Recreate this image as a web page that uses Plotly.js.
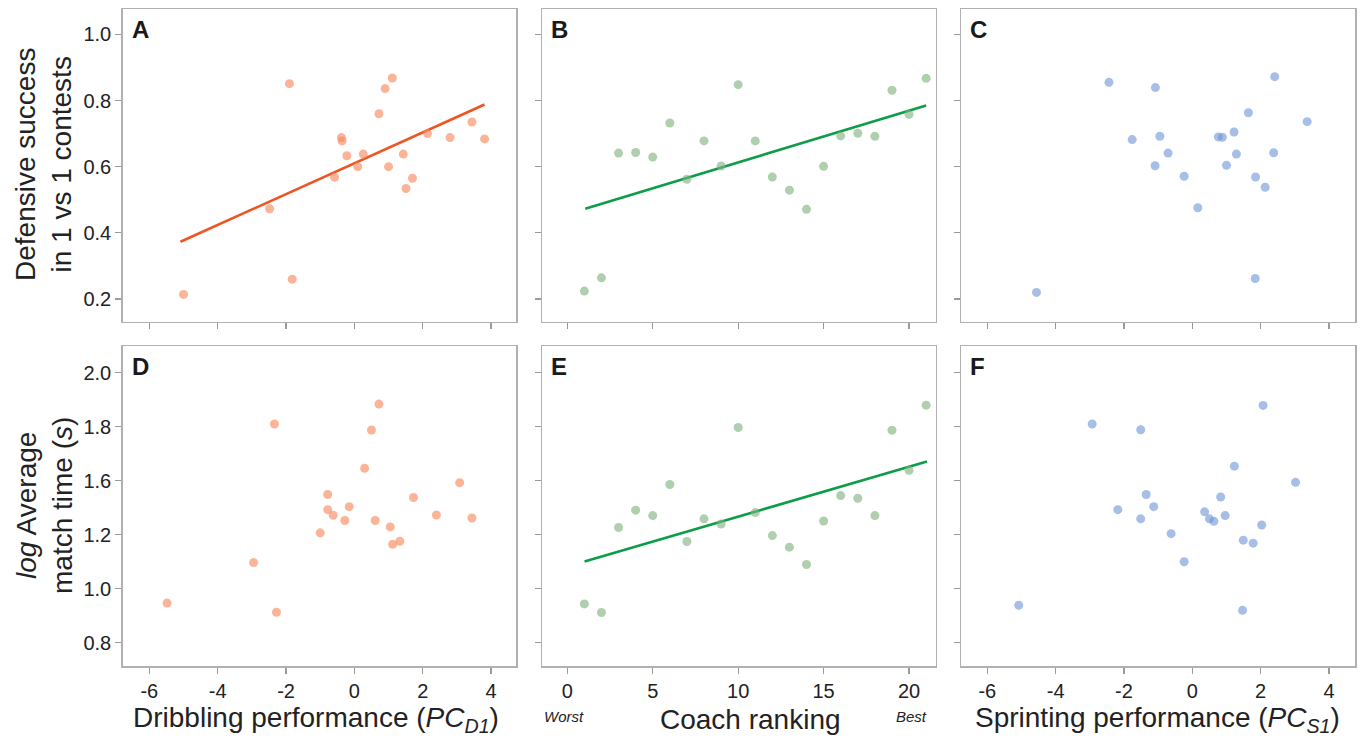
<!DOCTYPE html>
<html>
<head>
<meta charset="utf-8">
<script src="https://cdn.plot.ly/plotly-3.0.1.min.js"></script>
<style>html,body{margin:0;padding:0;background:#fff;}#chart{width:1364px;height:742px;}</style>
</head>
<body>
<div id="chart"></div>
<script>
// ---- Data ----
// Panel A: dribbling performance vs defensive success
const dribA = [-5.00,-2.48,-1.90,-1.82,-0.58,-0.38,-0.36,-0.22,0.10,0.26,0.72,0.90,1.11,1.00,1.43,1.51,1.70,2.14,2.80,3.44,3.81];
const defA  = [0.214,0.473,0.851,0.260,0.568,0.688,0.678,0.633,0.600,0.638,0.760,0.836,0.868,0.600,0.638,0.534,0.565,0.700,0.688,0.735,0.684];
const fitA_x = [-5.09, 3.81];
const fitA_y = [0.373, 0.788];

// Panel B: coach ranking vs defensive success
const rankB = [1,2,3,4,5,6,7,8,9,10,11,12,13,14,15,16,17,18,19,20,21];
const defB  = [0.224,0.264,0.641,0.643,0.629,0.732,0.562,0.678,0.602,0.848,0.678,0.569,0.529,0.471,0.601,0.693,0.701,0.692,0.831,0.758,0.867];
const fitB_x = [1.05, 21.0];
const fitB_y = [0.473, 0.785];

// Panel C: sprinting performance vs defensive success
const sprC = [-4.56,-2.44,-1.76,-1.08,-0.95,-1.09,-0.71,-0.24,0.16,0.76,0.88,1.00,1.22,1.29,1.64,1.85,1.84,2.13,2.38,2.41,3.36];
const defC = [0.220,0.855,0.682,0.839,0.692,0.603,0.641,0.571,0.476,0.690,0.689,0.604,0.705,0.638,0.763,0.569,0.262,0.538,0.642,0.872,0.736];

// Panel D: dribbling performance vs log average match time
const dribD = [-5.48,-2.95,-2.34,-2.28,-1.00,-0.78,-0.78,-0.62,-0.28,-0.15,0.30,0.50,0.72,0.61,1.05,1.12,1.33,1.73,2.40,3.08,3.44];
const timeD = [1.147,1.297,1.810,1.113,1.407,1.549,1.493,1.472,1.453,1.504,1.646,1.788,1.884,1.453,1.429,1.365,1.376,1.538,1.473,1.593,1.462];

// Panel E: coach ranking vs log average match time
const rankE = [1,2,3,4,5,6,7,8,9,10,11,12,13,14,15,16,17,18,19,20,21];
const timeE = [1.144,1.112,1.427,1.491,1.471,1.586,1.375,1.459,1.440,1.797,1.482,1.397,1.354,1.290,1.451,1.545,1.535,1.471,1.787,1.639,1.880];
const fitE_x = [1.01, 21.05];
const fitE_y = [1.301, 1.671];

// Panel F: sprinting performance vs log average match time
const sprF  = [-5.08,-2.93,-2.18,-1.51,-1.51,-1.35,-1.13,-0.62,-0.24,0.36,0.50,0.63,0.83,0.96,1.23,1.49,1.47,1.78,2.03,2.07,3.02];
const timeF = [1.139,1.810,1.493,1.789,1.459,1.549,1.504,1.404,1.300,1.485,1.459,1.450,1.540,1.471,1.654,1.380,1.120,1.369,1.436,1.879,1.594];

// Tick labels
const dribTicks = [-6,-4,-2,0,2,4];
const rankTicks = [0,5,10,15,20];
const defTicks  = [0.2,0.4,0.6,0.8,1.0];
const defTickText = ['0.2','0.4','0.6','0.8','1.0'];
const timeTickVals = [1.0,1.2,1.4,1.6,1.8,2.0];
const timeTickText = ['0.8','1.0','1.2','1.6','1.8','2.0'];

const panelLetters = ['A','B','C','D','E','F'];

// ---- Styles ----
const ORANGE_PT = 'rgba(249,140,96,0.65)';
const GREEN_PT  = 'rgba(128,178,126,0.62)';
const BLUE_PT   = 'rgba(108,146,214,0.6)';
const ORANGE_LN = '#ef5522';
const GREEN_LN  = '#0d9d48';
const FONT = 'Liberation Sans, Arial, Helvetica, sans-serif';

function pts(x, y, color, xa, ya) {
  return {x: x, y: y, type: 'scatter', mode: 'markers', xaxis: xa, yaxis: ya,
          marker: {size: 9, color: color, line: {width: 0}}, hoverinfo: 'x+y', showlegend: false};
}
function fit(x, y, color, xa, ya) {
  return {x: x, y: y, type: 'scatter', mode: 'lines', xaxis: xa, yaxis: ya,
          line: {color: color, width: 2.6}, hoverinfo: 'skip', showlegend: false};
}

const data = [
  fit(fitA_x, fitA_y, ORANGE_LN, 'x', 'y'),
  pts(dribA, defA, ORANGE_PT, 'x', 'y'),
  fit(fitB_x, fitB_y, GREEN_LN, 'x2', 'y2'),
  pts(rankB, defB, GREEN_PT, 'x2', 'y2'),
  pts(sprC, defC, BLUE_PT, 'x3', 'y3'),
  pts(dribD, timeD, ORANGE_PT, 'x4', 'y4'),
  fit(fitE_x, fitE_y, GREEN_LN, 'x5', 'y5'),
  pts(rankE, timeE, GREEN_PT, 'x5', 'y5'),
  pts(sprF, timeF, BLUE_PT, 'x6', 'y6')
];

const W = 1364, H = 742;
const colPx = [[122.7, 516], [542, 935.7], [961.3, 1355]];
const rowPx = [[9, 321.7], [346, 666]];
const xRanges = [[-6.78, 4.73], [-1.48, 21.56], [-6.76, 4.76]];
const yRanges = [[0.1315, 1.0766], [0.914, 2.099]];

function axBase() {
  return {showline: true, mirror: true, linecolor: '#b0b0b0', linewidth: 1.5,
          ticks: 'outside', ticklen: 6, tickwidth: 1.2, tickcolor: '#9a9a9a',
          showgrid: false, zeroline: false, fixedrange: true,
          tickfont: {family: FONT, size: 20, color: '#222'}};
}

const layout = {
  width: W, height: H,
  margin: {l: 0, r: 0, t: 0, b: 0},
  paper_bgcolor: '#ffffff', plot_bgcolor: '#ffffff',
  font: {family: FONT, color: '#222'},
  showlegend: false,
  annotations: []
};

for (let r = 0; r < 2; r++) {
  for (let c = 0; c < 3; c++) {
    const i = r * 3 + c + 1;
    const xk = i === 1 ? 'xaxis' : 'xaxis' + i;
    const yk = i === 1 ? 'yaxis' : 'yaxis' + i;
    const xa = axBase();
    xa.domain = [colPx[c][0] / W, colPx[c][1] / W];
    xa.range = xRanges[c];
    xa.anchor = i === 1 ? 'y' : 'y' + i;
    xa.tickmode = 'array';
    xa.tickvals = c === 1 ? rankTicks : dribTicks;
    xa.ticktext = (c === 1 ? rankTicks : dribTicks).map(String);
    xa.showticklabels = r === 1;
    const ya = axBase();
    ya.domain = [1 - rowPx[r][1] / H, 1 - rowPx[r][0] / H];
    ya.range = yRanges[r];
    ya.anchor = i === 1 ? 'x' : 'x' + i;
    ya.tickmode = 'array';
    ya.tickvals = r === 0 ? defTicks : timeTickVals;
    ya.ticktext = r === 0 ? defTickText : timeTickText;
    ya.showticklabels = c === 0;
    layout[xk] = xa;
    layout[yk] = ya;
    layout.annotations.push({
      text: '<b>' + panelLetters[i - 1] + '</b>', showarrow: false,
      xref: 'paper', yref: 'paper',
      x: (colPx[c][0] + 7) / W, y: 1 - (rowPx[r][0] + 5) / H,
      xanchor: 'left', yanchor: 'top',
      font: {family: FONT, size: 24, color: '#1a1a1a'}
    });
  }
}

function ann(text, xpx, ypx, size, extra) {
  const a = Object.assign({text: text, showarrow: false, xref: 'paper', yref: 'paper',
    x: xpx / W, y: 1 - ypx / H, xanchor: 'center', yanchor: 'middle',
    font: {family: FONT, size: size, color: '#222'}}, extra || {});
  layout.annotations.push(a);
}

ann('Defensive success<br>in 1 vs 1 contests', 44, 165, 28, {textangle: -90});
ann('<i>log</i> Average<br>match time (<i>s</i>)', 44, 506, 28, {textangle: -90});
ann('Dribbling performance (<i>PC<sub>D1</sub></i>)', 316, 719, 28);
ann('Coach ranking', 751, 719, 28);
ann('Sprinting performance (<i>PC<sub>S1</sub></i>)', 1157, 719, 28);
ann('<i>Worst</i>', 564, 716, 15);
ann('<i>Best</i>', 911, 716, 15);

Plotly.newPlot('chart', data, layout, {displayModeBar: false, staticPlot: true});
</script>
</body>
</html>
